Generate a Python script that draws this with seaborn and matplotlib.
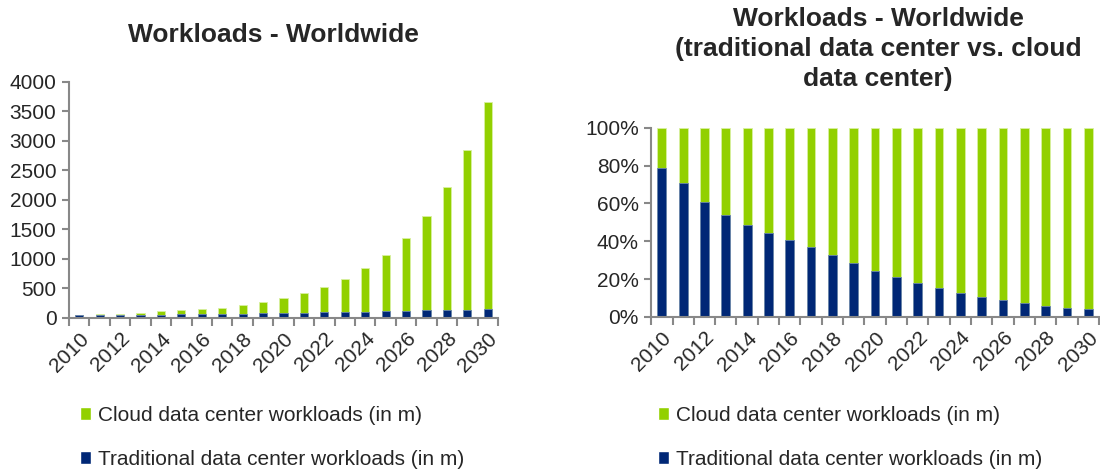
import matplotlib
matplotlib.use('Agg')
import matplotlib.pyplot as plt
from matplotlib.patches import Patch
from matplotlib.ticker import FixedLocator, PercentFormatter
import seaborn as sns
import numpy as np
import pandas as pd

# data (workloads in millions)
years = list(range(2010, 2031))
traditional = [45, 48, 45, 49, 55, 63, 65, 65, 72, 77, 82, 88, 93, 99, 107, 110, 122, 128, 133, 140, 154]
cloud = [12, 20, 29, 42, 58, 79, 94, 111, 149, 195, 258, 332, 429, 559, 733, 951, 1228, 1602, 2085, 2708, 3511]
xlabels = [str(y) if y % 2 == 0 else '' for y in years]

GREEN = '#92D000'
NAVY = '#002776'
GREY = '#888888'

df = pd.DataFrame({'year': years, 'traditional': traditional, 'cloud': cloud})
df['total'] = df['traditional'] + df['cloud']
df['trad_pct'] = df['traditional'] / df['total'] * 100
df['all_pct'] = 100.0

sns.set_style('white')
plt.rcParams['font.family'] = ['Liberation Sans', 'DejaVu Sans']

fig = plt.figure(figsize=(11, 4.71), dpi=100)
ax1 = fig.add_axes([0.0627, 0.325, 0.390, 0.501])
ax2 = fig.add_axes([0.592, 0.327, 0.407, 0.402])


def style_axis(ax):
    for s in ['top', 'right']:
        ax.spines[s].set_visible(False)
    for s in ['left', 'bottom']:
        ax.spines[s].set_color(GREY)
        ax.spines[s].set_linewidth(1.5)
    ax.set_xlim(-0.5, len(years) - 0.5)
    ax.set_xlabel('')
    ax.set_ylabel('')
    ax.set_xticks(range(len(years)))
    ax.set_xticklabels(xlabels, rotation=45, ha='right', rotation_mode='anchor', fontsize=15)
    ax.tick_params(axis='x', which='major', length=0, pad=8)
    ax.xaxis.set_minor_locator(FixedLocator(np.arange(-0.5, len(years), 1)))
    ax.tick_params(axis='x', which='minor', length=6, width=1.5, color=GREY, bottom=True)
    ax.tick_params(axis='y', length=5, width=1.5, color=GREY, left=True, labelsize=15, pad=4)


# left: absolute stacked bars
sns.barplot(data=df, x='year', y='total', color=GREEN, width=0.4, saturation=1,
            edgecolor='#d8f0a0', linewidth=0.6, ax=ax1)
sns.barplot(data=df, x='year', y='traditional', color=NAVY, width=0.4, saturation=1,
            edgecolor='#6a85b0', linewidth=0.6, ax=ax1)
style_axis(ax1)
ax1.set_ylim(0, 4000)
ax1.set_yticks(range(0, 4001, 500))

# right: 100% stacked bars
sns.barplot(data=df, x='year', y='all_pct', color=GREEN, width=0.41, saturation=1,
            edgecolor='#d8f0a0', linewidth=0.6, ax=ax2)
sns.barplot(data=df, x='year', y='trad_pct', color=NAVY, width=0.41, saturation=1,
            edgecolor='#6a85b0', linewidth=0.6, ax=ax2)
style_axis(ax2)
ax2.set_ylim(0, 100)
ax2.set_yticks(range(0, 101, 20))
ax2.yaxis.set_major_formatter(PercentFormatter(decimals=0))

# titles
fig.text(273 / 1100, 1 - 35 / 471, 'Workloads - Worldwide', ha='center', va='center',
         fontsize=19, fontweight='bold')
fig.text(878 / 1100, 1 - 49 / 471,
         'Workloads - Worldwide\n(traditional data center vs. cloud\ndata center)',
         ha='center', va='center', fontsize=19, fontweight='bold', linespacing=1.3)

handles = [Patch(facecolor=GREEN, label='Cloud data center workloads (in m)'),
           Patch(facecolor=NAVY, label='Traditional data center workloads (in m)')]
for ax, x0 in [(ax1, 80 / 1100), (ax2, 658 / 1100)]:
    ax.legend(handles=handles, loc='upper left', bbox_to_anchor=(x0, 1 - 406 / 471),
              bbox_transform=fig.transFigure, frameon=False, fontsize=15,
              handlelength=0.55, handleheight=0.55, handletextpad=0.3, labelspacing=1.2,
              borderaxespad=0, borderpad=0)

fig.savefig('out.png', dpi=100)
